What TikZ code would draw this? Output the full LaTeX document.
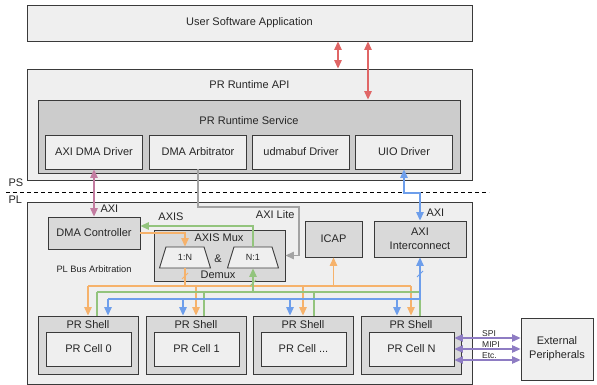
\documentclass[tikz,border=0pt]{standalone}
\usepackage{fontspec}
\setmainfont{Liberation Sans}
\usetikzlibrary{shapes.geometric,arrows.meta}
\definecolor{boxlight}{HTML}{EFEFEF}
\definecolor{boxmid}{HTML}{D9D9D9}
\definecolor{boxsvc}{HTML}{CCCCCC}
\definecolor{bordcol}{HTML}{3A3A3A}
\definecolor{txtcol}{HTML}{262626}
\definecolor{redc}{HTML}{E06666}
\definecolor{pinkc}{HTML}{C27BA0}
\definecolor{grayc}{HTML}{A3A3A3}
\definecolor{bluec}{HTML}{6D9EEB}
\definecolor{orangec}{HTML}{F6B26B}
\definecolor{greenc}{HTML}{93C47D}
\definecolor{purplec}{HTML}{8E7CC3}
\newcommand{\mydots}{...}
\begin{document}
\begin{tikzpicture}[x=1pt,y=-1pt,
  every node/.style={font=\fontsize{11}{14}\selectfont, text=txtcol},
  box/.style={draw=bordcol, line width=0.9pt, inner sep=0pt, align=center},
  trap/.style={trapezium, trapezium stretches=true, draw=bordcol, fill=boxlight,
    line width=0.9pt, minimum width=51pt, minimum height=21pt, inner sep=0pt,
    trapezium left angle=69, trapezium right angle=69, font=\fontsize{9}{10}\selectfont},
  conn/.style={line width=1.3pt},
  rc/.style={conn, draw=redc},
  pk/.style={conn, draw=pinkc},
  grc/.style={conn, draw=grayc},
  bc/.style={conn, draw=bluec},
  oc/.style={conn, draw=orangec},
  gc/.style={conn, draw=greenc},
  pu/.style={conn, draw=purplec, line width=1.1pt},
  slash/.style={line width=0.8pt},
  small/.style={font=\fontsize{8.5}{10}\selectfont},
  >={Triangle[length=8.5pt,width=7.5pt]}
]
\useasboundingbox (0,0) rectangle (597,385);

% ---------------- PS side ----------------
\node[box, fill=boxlight, minimum width=445pt, minimum height=36pt] (app) at (249.5,23) {User Software Application};
\node[box, fill=boxlight, minimum width=445pt, minimum height=111pt] (api) at (249.5,124.5) {};
\node (apil) at (249.5,85) {PR Runtime API};
\node[box, fill=boxsvc, minimum width=422pt, minimum height=73pt] (svc) at (249,136.5) {};
\node (svcl) at (249,121) {PR Runtime Service};
\node[box, fill=boxlight, minimum width=97pt, minimum height=34pt] (drv1) at (94,152) {AXI DMA Driver};
\node[box, fill=boxlight, minimum width=97pt, minimum height=34pt] (drv2) at (198,152) {DMA Arbitrator};
\node[box, fill=boxlight, minimum width=97pt, minimum height=34pt] (drv3) at (301,152) {udmabuf Driver};
\node[box, fill=boxlight, minimum width=97pt, minimum height=34pt] (uio) at (404,152) {UIO Driver};

\node[anchor=west] (ps) at (5,183) {PS};
\node[anchor=west] (pl) at (5,200) {PL};
\coordinate (dl) at (6,192);
\coordinate (dr) at (489,192);
\draw[line width=0.9pt, dash pattern=on 4pt off 3pt] (dl) -- (dr);

% ---------------- PL side ----------------
\node[box, fill=boxlight, minimum width=445pt, minimum height=182pt] (plb) at (249.5,293) {};
\node[box, fill=boxmid, minimum width=92pt, minimum height=32pt] (dma) at (94,233) {DMA Controller};
\node[box, fill=boxmid, minimum width=131pt, minimum height=51pt] (mux) at (219.5,255.5) {};
\node (muxl) at (219,238) {AXIS Mux};
\node (amp) at (218,259) {\&};
\node (demux) at (218,275) {Demux};
\node[trap] (tr1) at (185,257.5) {1:N};
\node[trap] (tr2) at (253,257.5) {N:1};
\node[box, fill=boxmid, minimum width=57pt, minimum height=36pt] (icap) at (333.5,239) {ICAP};
\node[box, fill=boxmid, minimum width=92pt, minimum height=36pt] (axi) at (420,239) {AXI\\Interconnect};
\node[font=\fontsize{9.3}{11}\selectfont] (lbus) at (94,269) {PL Bus Arbitration};

\foreach \n/\x/\t in {sh0/88/0, sh1/196/1, sh2/303/\mydots, shN/411/N}{
  \node[box, fill=boxmid, minimum width=100pt, minimum height=58pt] (\n) at (\x,345) {};
  \node (\n l) at (\x,325) {PR Shell};
  \node[box, fill=boxlight, minimum width=85pt, minimum height=34pt] (\n c) at (\x+0.5,349) {PR Cell \t};
}

\node[box, fill=boxlight, minimum width=72pt, minimum height=62pt] (ext) at (557,349) {External\\Peripherals};

% ---------------- connectors ----------------
\coordinate (r1) at (338,0);
\coordinate (r2) at (368,0);
\draw[rc,<->] (app.south -| r1) -- (api.north -| r1);
\draw[rc,<->] (app.south -| r2) -- (svc.north -| r2);

\draw[pk,<->] (drv1.south) -- (dma.north);
\node[anchor=west] (laxi1) at (97,209) {AXI};

\coordinate (gl) at (299,207);
\draw[grc,->] (drv2.south) |- (gl) |- (mux.east);
\node[anchor=east] (llite) at (298,214.5) {AXI Lite};

\coordinate (bt) at (420,193);
\draw[bc,<->] (uio.south) |- (bt) -- (axi.north);
\node[anchor=west] (laxi2) at (423,213) {AXI};

\draw[oc,->] (dma.east) -| (tr1.north);
\coordinate (ga) at (0,226);
\draw[gc,->] (tr2.north) |- (dma.east |- ga);
\node (laxis) at (171,217) {AXIS};

% bus levels
\coordinate (obus) at (0,286);
\coordinate (gbus) at (0,292);
\coordinate (bbus) at (0,299);

% orange bus
\draw[oc] (tr1.south) -- (tr1.south |- obus);
\draw[oc] (sh0.north |- obus) -- (shN.north |- obus);
\foreach \s in {sh0,sh1,sh2,shN}{\draw[oc,->] (\s.north |- obus) -- (\s.north);}
\draw[oc,->] (icap.south |- obus) -- (icap.south);

% green bus
\coordinate (g0) at ([xshift=9pt]sh0.north);
\coordinate (g1) at ([xshift=8pt]sh1.north);
\coordinate (g2) at ([xshift=11pt]sh2.north);
\coordinate (gN) at ([xshift=9pt]shN.north);
\draw[gc] (g0 |- gbus) -- (gN |- gbus);
\foreach \g in {g0,g1,g2,gN}{\draw[gc] (\g |- gbus) -- (\g);}
\draw[gc,->] (tr2.south |- gbus) -- (tr2.south);

% blue bus
\coordinate (b0) at ([xshift=20pt]sh0.north);
\coordinate (b1) at ([xshift=-13pt]sh1.north);
\coordinate (b2) at ([xshift=-13pt]sh2.north);
\coordinate (bN) at ([xshift=-14pt]shN.north);
\draw[bc,->] (b0 |- bbus) -| (axi.south);
\foreach \b in {b0,b1,b2,bN}{\draw[bc,->] (\b |- bbus) -- (\b);}

% bus-width slashes
\coordinate (ys1) at (0,276);
\coordinate (ys2) at (0,283);
\coordinate (ys3) at (0,274);
\coordinate (so) at (tr1.south |- ys1);
\coordinate (sg) at (tr2.south |- ys2);
\coordinate (sb) at (axi.south |- ys3);
\draw[orangec, slash] ([shift={(-3pt,-3pt)}]so) -- ([shift={(3pt,3pt)}]so);
\draw[greenc, slash] ([shift={(-3pt,-3pt)}]sg) -- ([shift={(3pt,3pt)}]sg);
\draw[bluec, slash] ([shift={(-3pt,-3pt)}]sb) -- ([shift={(3pt,3pt)}]sb);

% peripheral links
\coordinate (p1) at (0,338);
\coordinate (p2) at (0,349);
\coordinate (p3) at (0,360);
\draw[pu,<->] (shNc.east |- p1) -- (ext.west |- p1);
\draw[pu,<->] (shNc.east |- p2) -- (ext.west |- p2);
\draw[pu,<->] (shNc.east |- p3) -- (ext.west |- p3);
\node[small, anchor=south west, inner sep=0pt] (lspi) at (482,336.5) {SPI};
\node[small, anchor=south west, inner sep=0pt] (lmipi) at (482,347.5) {MIPI};
\node[small, anchor=south west, inner sep=0pt] (letc) at (482,358.5) {Etc.};
\end{tikzpicture}
\end{document}
